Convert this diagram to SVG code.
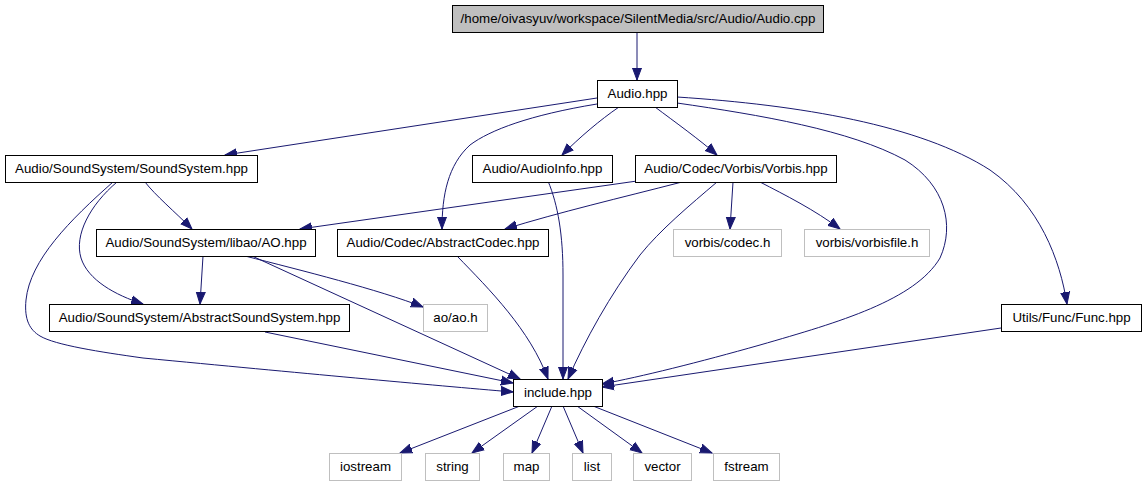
<svg xmlns="http://www.w3.org/2000/svg" width="1145" height="485" viewBox="0 0 1145 485">
<style>
.n rect{fill:#fff;stroke:#000;stroke-width:1}
.n.root rect{fill:#bfbfbf}
.n.ext rect{stroke:#bfbfbf}
text{font-family:"Liberation Sans",Arial,sans-serif;font-size:13.3px;fill:#000;text-anchor:middle}
#edges path{fill:none;stroke:#191970;stroke-width:1;marker-end:url(#ah)}
</style>
<defs>
<marker id="ah" markerUnits="userSpaceOnUse" markerWidth="14" markerHeight="12" refX="12" refY="5" orient="auto" viewBox="0 0 14 10">
<path d="M0,0.5 L12,5 L0,9.5 z" fill="#191970" stroke="#191970"/>
</marker>
</defs>
<rect width="1145" height="485" fill="#fff"/>
<g id="edges">
<path d="M637,32 L637,80"/>
<path d="M597,98 L225,155"/>
<path d="M619,107 C600,120 580,137 562,155"/>
<path d="M597,104 C530,115 490,130 470,145 C448,165 442,195 442,229"/>
<path d="M655,107 C675,122 700,140 717,155"/>
<path d="M677,103 C760,115 850,130 905,160 C945,185 955,225 940,258 C915,300 840,322 760,345 C700,362 640,377 602,384"/>
<path d="M677,97 C800,105 920,125 990,170 C1040,205 1060,260 1067,304"/>
<path d="M145,182 C155,195 175,212 192,229"/>
<path d="M117,182 C90,205 74,235 81,258 C88,280 115,295 143,304"/>
<path d="M113,182 C70,220 30,260 26,300 C24,320 30,330 40,336 C55,345 100,352 143,358 C300,373 430,385 513,392"/>
<path d="M265,332 L513,383"/>
<path d="M203,256 L200,304"/>
<path d="M245,256 C300,270 380,290 423,307"/>
<path d="M252,256 L520,379"/>
<path d="M548,181 C558,205 563,235 563,275 L563,379"/>
<path d="M457,256 C490,290 530,330 548,379"/>
<path d="M637,181 L300,229"/>
<path d="M682,182 C620,198 560,212 505,229"/>
<path d="M717,182 C690,205 660,230 640,255 C610,295 585,340 568,379"/>
<path d="M733,182 L730,229"/>
<path d="M760,182 C785,195 815,210 840,229"/>
<path d="M1001,328 L602,387"/>
<path d="M520,406 L400,453"/>
<path d="M538,406 L472,453"/>
<path d="M552,406 L532,453"/>
<path d="M563,406 L583,453"/>
<path d="M577,406 L642,453"/>
<path d="M593,406 L712,453"/>
</g>
<g id="audio_cpp" class="n root"><rect x="452.5" y="5.5" width="371" height="27"/><text x="638" y="23">/home/oivasyuv/workspace/SilentMedia/src/Audio/Audio.cpp</text></g>
<g id="audio_hpp" class="n"><rect x="597.5" y="80.5" width="80" height="27"/><text x="637.5" y="98">Audio.hpp</text></g>
<g id="soundsystem" class="n"><rect x="5.5" y="155.5" width="252" height="27"/><text x="131.5" y="173">Audio/SoundSystem/SoundSystem.hpp</text></g>
<g id="audioinfo" class="n"><rect x="472.5" y="155.5" width="140" height="27"/><text x="542.5" y="173">Audio/AudioInfo.hpp</text></g>
<g id="vorbis" class="n"><rect x="635.5" y="155.5" width="201" height="27"/><text x="736" y="173">Audio/Codec/Vorbis/Vorbis.hpp</text></g>
<g id="ao" class="n"><rect x="96.5" y="229.5" width="219" height="27"/><text x="206" y="247">Audio/SoundSystem/libao/AO.hpp</text></g>
<g id="abstractcodec" class="n"><rect x="337.5" y="229.5" width="211" height="27"/><text x="443" y="247">Audio/Codec/AbstractCodec.hpp</text></g>
<g id="vorbis_codec" class="n ext"><rect x="673.5" y="229.5" width="108" height="27"/><text x="727.5" y="247">vorbis/codec.h</text></g>
<g id="vorbisfile" class="n ext"><rect x="804.5" y="229.5" width="125" height="27"/><text x="867" y="247">vorbis/vorbisfile.h</text></g>
<g id="abstractss" class="n"><rect x="49.5" y="304.5" width="300" height="27"/><text x="199.5" y="322">Audio/SoundSystem/AbstractSoundSystem.hpp</text></g>
<g id="ao_h" class="n ext"><rect x="423.5" y="304.5" width="64" height="27"/><text x="455.5" y="322">ao/ao.h</text></g>
<g id="func" class="n"><rect x="1001.5" y="304.5" width="140" height="27"/><text x="1071.5" y="322">Utils/Func/Func.hpp</text></g>
<g id="include" class="n"><rect x="513.5" y="379.5" width="89" height="27"/><text x="558" y="397">include.hpp</text></g>
<g id="iostream" class="n ext"><rect x="329.5" y="453.5" width="72" height="27"/><text x="365.5" y="471">iostream</text></g>
<g id="string" class="n ext"><rect x="425.5" y="453.5" width="54" height="27"/><text x="452.5" y="471">string</text></g>
<g id="map" class="n ext"><rect x="503.5" y="453.5" width="46" height="27"/><text x="526.5" y="471">map</text></g>
<g id="list" class="n ext"><rect x="572.5" y="453.5" width="39" height="27"/><text x="592" y="471">list</text></g>
<g id="vector" class="n ext"><rect x="633.5" y="453.5" width="58" height="27"/><text x="662.5" y="471">vector</text></g>
<g id="fstream" class="n ext"><rect x="713.5" y="453.5" width="66" height="27"/><text x="746.5" y="471">fstream</text></g>
</svg>
